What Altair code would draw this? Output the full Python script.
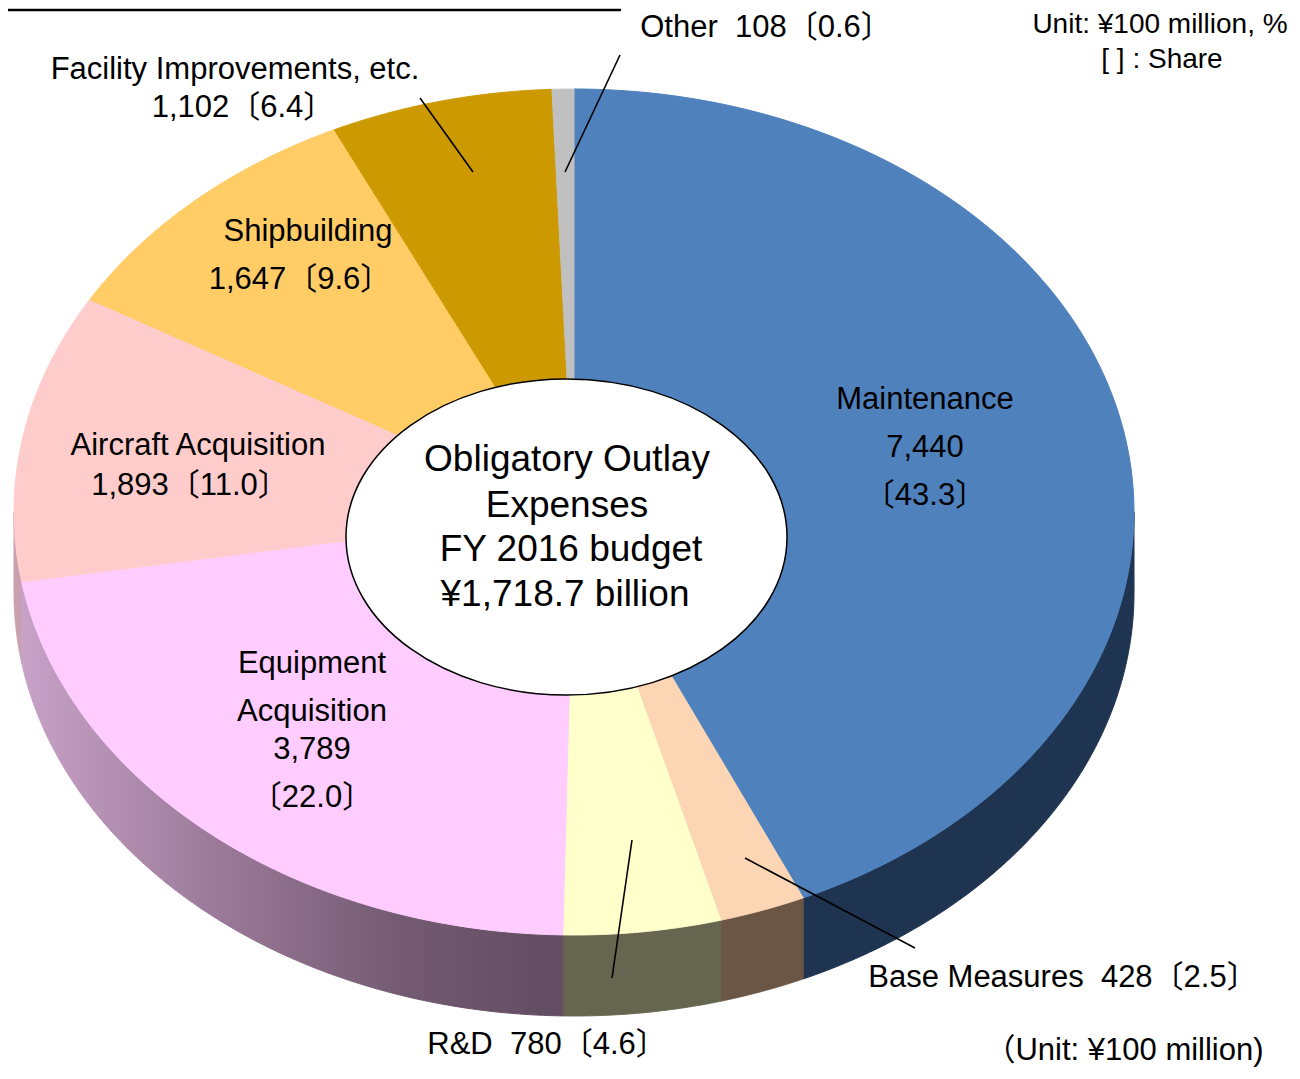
import altair as alt
import pandas as pd

# ---------------- data ----------------
names = ["Maintenance", "Base Measures", "R&D", "Equipment Acquisition",
         "Aircraft Acquisition", "Shipbuilding", "Facility Improvements, etc.", "Other"]
values = [7440, 428, 780, 3789, 1893, 1647, 1102, 108]          # ¥100 million
shares = [43.3, 2.5, 4.6, 22.0, 11.0, 9.6, 6.4, 0.6]            # %
top_colors = ["#4f81bd", "#fcd5b4", "#ffffcc", "#ffccff", "#ffcccc", "#ffcc66", "#cc9900", "#c0c0c0"]
side_colors = ["#1f3450", "#6b5646", "#666650", "#8e6f8c", "#c8a0b0", "#8c7040", "#7a5c00", "#707070"]
center_lines = ["Obligatory Outlay", "Expenses", "FY 2016 budget", "¥1,718.7 billion"]
unit_lines = ["Unit: ¥100 million, %", "[ ] : Share"]
footer = "（Unit: ¥100 million)"

# ---------------- layout (pixels of the 1300x1079 picture) ----------------
W, H = 1284, 1063
OX, OY = 8, 8
CX, CY, RX, RY, DEPTH = 574, 512, 560, 423, 81
N = 120
FONT = "Liberation Sans, Arial, Noto Sans CJK JP, sans-serif"
SP = " \u00a0"   # double space that SVG keeps

xs = alt.Scale(domain=[OX, OX + W], nice=False, zero=False)
ys = alt.Scale(domain=[OY, OY + H], nice=False, zero=False, reverse=True)


def v(i):
    return f"{values[i]:,}"


def s(i):
    return f"〔{shares[i]:.1f}〕"


slices = pd.DataFrame({"name": names, "value": values, "order": list(range(len(names)))})

base = alt.Chart(slices).transform_joinaggregate(
    total="sum(value)"
).transform_window(
    cum="sum(value)", sort=[alt.SortField("order")], frame=[None, 0]
).transform_calculate(
    a0="2*PI*(datum.cum - datum.value)/datum.total",
    a1="2*PI*datum.cum/datum.total",
)

# ---- top face of the tilted pie ----
top = base.transform_calculate(
    seq=f"sequence(-1, {N + 1})"
).transform_flatten(["seq"], as_=["k"]).transform_calculate(
    t=f"datum.a0 + (datum.a1 - datum.a0) * max(datum.k, 0) / {N}",
    r="datum.k < 0 ? 0 : 1",
).transform_calculate(
    px=f"{CX} + datum.r * {RX} * sin(datum.t)",
    py=f"{CY} - datum.r * {RY} * cos(datum.t)",
).mark_line(interpolate="linear-closed", strokeWidth=1).encode(
    x=alt.X("px:Q", scale=xs, axis=None),
    y=alt.Y("py:Q", scale=ys, axis=None),
    fill=alt.Fill("name:N", scale=alt.Scale(domain=names, range=top_colors), legend=None),
    stroke=alt.Stroke("name:N", scale=alt.Scale(domain=names, range=top_colors), legend=None),
    detail="name:N",
    order=alt.Order("k:Q"),
)

# ---- visible side walls (front half) ----
walls = base.transform_calculate(
    w0="max(datum.a0, PI/2)", w1="min(datum.a1, 3*PI/2)"
).transform_filter("datum.w1 > datum.w0").transform_calculate(
    seq=f"sequence(0, {2 * N + 2})"
).transform_flatten(["seq"], as_=["k"]).transform_calculate(
    j=f"datum.k <= {N} ? datum.k : {2 * N + 1} - datum.k"
).transform_calculate(
    t=f"datum.w0 + (datum.w1 - datum.w0) * datum.j / {N}"
).transform_calculate(
    px=f"{CX} + {RX} * sin(datum.t)",
    py=f"{CY} - {RY} * cos(datum.t) + (datum.k > {N} ? {DEPTH} : 0)",
)

wall_solid = walls.transform_filter(alt.datum.name != names[3]).mark_line(
    interpolate="linear-closed", strokeWidth=1
).encode(
    x=alt.X("px:Q", scale=xs, axis=None),
    y=alt.Y("py:Q", scale=ys, axis=None),
    fill=alt.Fill("name:N", scale=alt.Scale(domain=names, range=side_colors), legend=None),
    stroke=alt.Stroke("name:N", scale=alt.Scale(domain=names, range=side_colors), legend=None),
    detail="name:N",
    order=alt.Order("k:Q"),
)

grad = alt.Gradient(
    gradient="linear",
    stops=[alt.GradientStop(color="#c8a2c8", offset=0),
           alt.GradientStop(color="#9c7b9a", offset=0.35),
           alt.GradientStop(color="#735a72", offset=0.7),
           alt.GradientStop(color="#624c62", offset=1)],
    x1=0, x2=1, y1=0, y2=0,
)
wall_grad = walls.transform_filter(alt.datum.name == names[3]).mark_line(
    interpolate="linear-closed", strokeWidth=1, fill=grad, stroke=grad
).encode(
    x=alt.X("px:Q", scale=xs, axis=None),
    y=alt.Y("py:Q", scale=ys, axis=None),
    order=alt.Order("k:Q"),
)

# ---- white central ellipse ----
ell_rx, ell_ry = 220.5, 158
ellipse = alt.Chart(pd.DataFrame({"a": [0]})).mark_point(
    shape=f"M-1,0A1,{ell_ry / ell_rx:.4f} 0 1,1 1,0A1,{ell_ry / ell_rx:.4f} 0 1,1 -1,0Z",
    size=(2 * ell_rx) ** 2, filled=True, fill="white", stroke="black",
    strokeWidth=1.5, opacity=1,
).encode(x=alt.value(566.5 - OX), y=alt.value(537 - OY))

# ---- leader lines ----
leaders = pd.DataFrame({
    "x": [620, 420, 915, 612], "y": [55, 98, 948, 978],
    "x2": [565, 473, 745, 632], "y2": [172, 172, 858, 840],
})
leader_layer = alt.Chart(leaders).mark_rule(color="black", strokeWidth=1.6).encode(
    x=alt.X("x:Q", scale=xs, axis=None), y=alt.Y("y:Q", scale=ys, axis=None),
    x2="x2:Q", y2="y2:Q",
)

frame_line = alt.Chart(pd.DataFrame({"x": [OX], "x2": [620], "y": [10]})).mark_rule(
    color="black", strokeWidth=2.5, strokeCap="round"
).encode(
    x=alt.X("x:Q", scale=xs, axis=None), x2="x2:Q", y=alt.Y("y:Q", scale=ys, axis=None)
)

# ---- texts ----
texts = [
    (f"{names[7]}{SP}{values[7]}{s(7)}", 766, 28, 31),
    (names[6], 235, 70, 31),
    (f"{v(6)}{s(6)}", 243, 108, 31),
    (names[5], 308, 232, 31),
    (f"{v(5)}{s(5)}", 300, 280, 31),
    (names[4], 198, 446, 31),
    (f"{v(4)}{s(4)}", 190, 486, 31),
    (names[0], 925, 400, 31),
    (v(0), 925, 448, 31),
    (s(0), 925, 496, 31),
    (names[3].split(" ")[0], 312, 664, 31),
    (names[3].split(" ")[1], 312, 712, 31),
    (v(3), 312, 750, 31),
    (s(3), 312, 798, 31),
    (f"{names[2]}{SP}{values[2]}{s(2)}", 547, 1045, 31),
    (f"{names[1]}{SP}{values[1]}{s(1)}", 1063, 978, 31),
    (center_lines[0], 567, 460, 37),
    (center_lines[1], 567, 506, 37),
    (center_lines[2], 571, 550, 37),
    (center_lines[3], 565, 595, 37),
    (unit_lines[0], 1160, 25, 28),
    (unit_lines[1], 1162, 60, 28),
    (footer, 1124, 1051, 31),
]
tdf = pd.DataFrame(texts, columns=["text", "x", "y", "size"])
text_layer = alt.Chart(tdf).mark_text(
    font=FONT, baseline="middle", align="center", color="black"
).encode(
    x=alt.X("x:Q", scale=xs, axis=None),
    y=alt.Y("y:Q", scale=ys, axis=None),
    text="text:N",
    size=alt.Size("size:Q", scale=None, legend=None),
)

chart = alt.layer(
    wall_solid, wall_grad, top, ellipse, leader_layer, frame_line, text_layer
).resolve_scale(fill="independent", stroke="independent").properties(
    width=W, height=H, padding=0,
    autosize=alt.AutoSizeParams(type="none"),
    background="white",
).configure_view(strokeWidth=0)

chart.save("out.html", embed_options={"renderer": "svg", "actions": False})
